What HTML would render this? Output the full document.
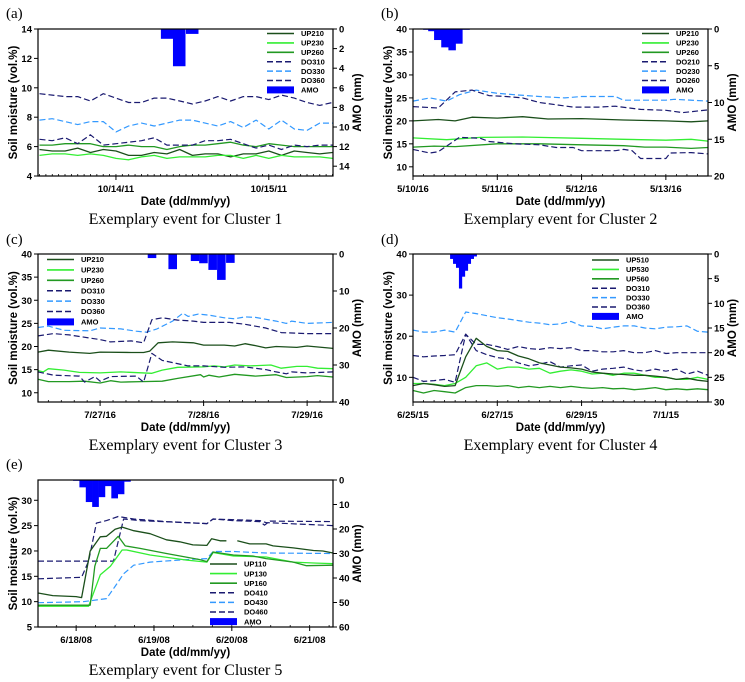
<!DOCTYPE html>
<html><head><meta charset="utf-8"><style>
html,body{margin:0;padding:0;background:#fff;}
svg{display:block;font-family:"Liberation Sans",Arial,sans-serif;}
.tk{font-size:9.5px;font-weight:bold;fill:#000;}
.lg{font-size:7.5px;font-weight:bold;fill:#000;}
.ttl{font-size:11.5px;font-weight:bold;fill:#000;}
.cap{font-family:"Liberation Serif",serif;font-size:16px;fill:#000;}
.pl{font-family:"Liberation Serif",serif;font-size:15px;fill:#000;}
</style></head><body>
<svg id="fig" width="745" height="682" viewBox="0 0 745 682" xmlns="http://www.w3.org/2000/svg"></svg>
<script>
// ---------- Panel A data (days relative to 10/14/11) ----------
const aT = [-0.5,-0.417,-0.333,-0.25,-0.167,-0.083,0,0.083,0.167,0.25,0.333,0.417,0.5,0.583,0.667,0.75,0.833,0.917,1.0,1.083,1.167,1.25,1.333,1.417];
const aUP210 = [5.8,5.7,5.7,5.9,5.6,5.8,5.7,5.4,5.4,5.6,5.5,5.8,5.4,5.5,5.5,5.3,5.5,5.5,5.7,5.4,5.7,5.6,5.5,5.6];
const aUP230 = [5.4,5.5,5.5,5.4,5.5,5.4,5.2,5.1,5.3,5.4,5.2,5.3,5.3,5.3,5.4,5.4,5.2,5.4,5.2,5.4,5.3,5.3,5.3,5.2];
const aUP260 = [6.1,6.1,6.2,6.2,6.2,6.0,6.0,6.1,6.0,6.0,5.8,6.0,6.1,6.1,6.2,6.3,6.1,6.0,6.2,6.1,6.0,6.0,6.0,6.0];
const aDO310 = [9.6,9.5,9.4,9.4,9.1,9.6,9.3,9.0,9.0,9.3,9.3,9.1,8.9,9.1,9.4,9.1,9.4,9.4,9.2,9.5,9.3,9.0,8.8,9.0];
const aDO330 = [7.8,7.9,7.7,7.5,7.7,7.7,7.0,7.4,7.6,7.4,7.6,7.8,7.8,7.6,7.4,7.7,7.3,7.8,7.2,7.8,7.2,7.1,7.6,7.6];
const aDO360 = [6.5,6.4,6.6,6.2,6.8,6.1,6.2,6.3,6.4,6.6,6.1,6.1,6.1,6.4,6.4,6.5,6.2,5.9,6.1,5.8,6.1,6.0,6.1,6.1];
const aAmoT = [0.294,0.373,0.458];
const aAmo = [1.0,3.8,0.5];
// ---------- Panel B data (days relative to 5/10/16) ----------
const bDO230T = [0,0.2,0.4,0.55,0.75,1.0,1.2,1.5,1.8,2.0,2.4,2.5,3.0,3.1,3.5];
const bDO230 = [24.3,25.0,24.3,25.7,26.7,26.0,25.7,25.3,25.0,25.3,25.3,24.5,24.5,24.7,24.3];
const bDO210T = [0,0.3,0.5,0.7,0.9,1.1,1.3,1.5,1.9,2.2,2.4,2.7,3.0,3.2,3.5];
const bDO210 = [23.1,22.8,26.3,26.7,25.5,25.3,25.0,24.0,23.0,23.0,23.2,22.5,22.3,21.8,22.4];
const bUP210T = [0,0.3,0.5,0.7,1.0,1.3,1.6,2.0,2.5,3.0,3.3,3.5];
const bUP210 = [20.0,20.3,20.0,20.8,20.6,20.9,20.4,20.5,20.2,20.0,19.8,20.0];
const bUP230T = [0,0.4,0.8,1.3,2.0,2.5,3.0,3.3,3.5];
const bUP230 = [16.3,15.9,16.4,16.5,16.2,16.0,15.8,16.0,15.6];
const bUP260T = [0,0.25,0.5,1.0,1.5,2.0,2.5,2.75,3.0,3.3,3.5];
const bUP260 = [14.3,14.5,14.4,15.0,15.0,14.8,14.6,14.3,14.3,14.0,14.2];
const bDO260T = [0,0.2,0.3,0.55,0.8,0.9,1.2,1.5,1.7,1.9,2.0,2.4,2.5,2.6,2.7,3.0,3.05,3.3,3.5];
const bDO260 = [13.8,13.0,13.3,16.4,16.2,15.5,15.0,14.8,14.2,14.2,13.5,13.5,13.8,13.5,11.8,11.8,13.0,13.1,12.8];
const bAmoT = [0.12,0.18,0.25,0.335,0.42,0.50,0.585];
const bAmo = [0.05,0.3,1.5,2.5,2.9,2.0,0];
// ---------- Panel C data (days relative to 7/27/16) ----------
const cDO330T = [-0.6,-0.5,-0.35,-0.1,0,0.2,0.35,0.45,0.55,0.7,0.8,0.85,0.95,1.05,1.2,1.3,1.4,1.5,1.7,1.8,1.85,2.0,2.25];
const cDO330 = [24.1,24.4,23.5,23.4,24.0,23.8,23.3,23.1,23.8,25.5,27.2,26.5,27.0,26.8,26.2,26.0,26.4,26.3,25.5,25.0,25.5,25.0,25.2];
const cDO310T = [-0.6,-0.45,-0.3,0,0.1,0.3,0.42,0.5,0.6,0.75,0.9,1.0,1.25,1.4,1.6,1.75,2.0,2.25];
const cDO310 = [22.3,22.8,22.5,21.5,21.0,21.2,20.8,25.8,26.2,25.7,25.5,25.2,25.2,24.8,24.0,23.0,22.8,22.8];
const cUP210T = [-0.6,-0.5,-0.3,-0.1,0,0.3,0.42,0.48,0.56,0.7,0.9,1.0,1.2,1.3,1.4,1.5,1.6,1.7,1.9,2.0,2.25];
const cUP210 = [18.8,19.2,18.8,18.5,18.8,18.7,18.7,19.0,20.8,21.0,20.8,20.3,20.3,20.1,20.6,20.2,19.7,20.0,19.8,20.1,19.6];
const cUP230T = [-0.6,-0.55,-0.5,-0.35,-0.2,0,0.2,0.5,0.6,0.75,1.0,1.1,1.2,1.3,1.45,1.65,1.75,1.9,2.0,2.1,2.25];
const cUP230 = [14.8,14.5,15.2,14.9,14.4,14.3,14.5,14.2,14.9,15.5,15.6,15.8,15.6,16.0,15.8,16.0,15.3,15.7,15.7,15.3,15.2];
const cUP260T = [-0.6,-0.5,-0.3,-0.15,0,0.1,0.2,0.4,0.6,0.75,0.97,1.0,1.05,1.15,1.3,1.5,1.7,1.8,2.0,2.1,2.25];
const cUP260 = [12.9,12.4,12.4,12.5,12.1,12.6,12.3,12.4,12.5,13.1,13.9,13.4,13.8,13.4,14.0,13.6,13.9,13.3,13.5,13.7,13.4];
const cDO360T = [-0.6,-0.45,-0.2,-0.15,-0.05,0,0.1,0.35,0.42,0.5,0.6,0.85,1.0,1.2,1.4,1.6,1.7,1.8,1.85,2.0,2.25];
const cDO360 = [14.5,13.8,13.6,12.3,13.5,12.5,13.5,13.6,12.3,18.5,17.0,15.8,15.8,15.5,15.6,15.0,14.5,14.1,14.5,14.3,14.5];
const cAmoT = [0.46,0.66,0.876,0.957,1.046,1.13,1.217];
const cAmo = [1.1,4.1,1.9,2.5,4.3,7.0,2.4];
// ---------- Panel D data (days relative to 6/25/15) ----------
const dT = [0,0.25,0.5,0.75,1,1.25,1.5,1.75,2,2.25,2.5,2.75,3,3.25,3.5,3.75,4,4.25,4.5,4.75,5,5.25,5.5,5.75,6,6.25,6.5,6.75,7];
const dDO330 = [21.5,21.0,21.0,21.5,21.0,25.9,25.5,25.0,24.5,24.2,23.8,23.4,23.2,22.8,23.0,23.6,22.5,22.4,21.8,22.2,22.5,22.5,22.0,21.8,22.2,22.3,22.5,21.2,21.0];
const dDO310 = [15.3,15.0,15.2,15.3,15.5,20.5,18.0,18.0,17.5,16.8,17.5,17.0,16.8,17.2,17.0,17.2,16.5,16.5,16.2,16.2,16.5,16.0,16.0,16.5,15.8,16.0,16.0,16.0,16.0];
const dUP510 = [8.0,8.5,8.2,7.8,8.0,15.0,19.5,17.5,16.5,16.3,15.2,14.5,13.5,13.0,12.5,12.3,12.0,11.3,11.0,10.8,10.7,10.5,10.5,10.3,10.0,9.5,9.8,9.3,9.0];
const dDO360 = [10.0,9.0,9.2,9.5,8.8,20.5,16.5,15.5,14.8,14.5,13.5,12.8,13.2,13.8,12.5,12.8,13.0,11.5,12.0,12.2,12.5,11.8,11.5,12.0,11.5,12.0,10.8,11.5,10.5];
const dUP530 = [8.5,8.5,8.3,8.0,8.5,10.0,12.8,13.5,12.0,12.5,12.5,12.0,12.2,11.0,11.5,11.8,11.5,10.8,11.0,10.5,11.0,11.0,10.5,10.0,10.0,9.5,9.5,10.0,9.5];
const dUP560 = [6.8,6.2,6.8,6.5,6.2,7.5,8.0,8.0,7.8,8.0,7.5,7.8,7.5,7.8,7.5,7.8,7.5,7.3,7.5,7.2,7.3,7.0,7.2,7.5,7.0,7.2,7.0,7.2,7.0];
const dAmoT = [0.88,0.95,1.02,1.09,1.16,1.23,1.30,1.37,1.44];
const dAmo = [1.0,2.0,2.8,7.0,4.6,3.4,2.0,1.0,0.5];
// ---------- Panel E data (days relative to 6/18/08) ----------
const eDO410T = [-0.49,0.07,0.16,0.26,0.39,0.54,0.74,1.16,1.68,1.76,2.02,2.36,2.42,2.49,3.3];
const eDO410 = [14.5,14.8,18.0,25.5,26.0,26.8,26.3,25.8,25.4,26.3,26.0,25.8,25.1,25.9,25.8];
const eDO460T = [-0.49,0.48,0.61,0.82,1.68,1.76,2.36,2.44,3.3];
const eDO460 = [18.0,18.0,26.3,26.0,25.4,26.3,26.0,25.6,25.0];
const eDO430T = [-0.49,0.09,0.39,0.5,0.61,0.74,0.95,1.42,1.68,1.76,2.02,2.44,3.3];
const eDO430 = [9.8,10.0,10.6,13.0,15.5,17.2,17.8,18.3,18.5,19.9,19.9,19.6,19.5];
const eUP110T = [-0.49,-0.3,0.0,0.07,0.18,0.31,0.39,0.5,0.59,0.74,0.95,1.16,1.33,1.5,1.68,1.74,1.85,1.93,1.98,2.07,2.23,2.44,2.53,2.79,3.05,3.17,3.3];
const eUP110 = [11.7,11.2,11.0,10.8,20.0,22.8,22.9,24.3,24.7,24.0,23.4,22.2,21.8,21.2,21.1,22.4,22.0,22.0,null,22.0,21.4,21.4,21.0,20.6,20.1,20.0,19.6];
const eUP160T = [-0.49,0.18,0.24,0.31,0.39,0.54,0.63,0.82,1.16,1.59,1.68,1.76,2.02,2.27,2.44,2.79,2.96,3.3];
const eUP160 = [9.3,9.3,17.0,20.5,20.5,22.9,21.0,20.5,19.5,18.3,17.9,19.8,19.2,19.0,18.5,17.8,17.1,17.2];
const eUP130T = [-0.49,0.16,0.31,0.44,0.59,0.65,0.95,1.42,1.68,1.76,2.02,2.44,2.79,3.09,3.3];
const eUP130 = [9.1,9.1,15.3,17.0,20.2,20.2,19.2,18.2,17.8,19.7,19.0,18.8,17.8,17.6,17.5];
const eAmoT = [-0.04,0.042,0.124,0.206,0.288,0.37,0.452,0.534,0.616];
const eAmo = [0.3,3.0,9.0,11.0,7.0,2.5,7.5,5.8,0.7];

const NS = "http://www.w3.org/2000/svg";
const fig = document.getElementById('fig');
function mk(tag, attrs, parent){ const e=document.createElementNS(NS,tag); for(const k in attrs) e.setAttribute(k,attrs[k]); (parent||fig).appendChild(e); return e; }

const STY = {
  up1:{c:'#1b4f1b',w:1.3,d:''},
  up3:{c:'#33ee33',w:1.3,d:''},
  up6:{c:'#229922',w:1.3,d:''},
  do1:{c:'#1a1a70',w:1.2,d:'6,3'},
  do3:{c:'#3399ff',w:1.2,d:'6,3'},
  do6:{c:'#1a1a70',w:1.2,d:'6,3'}
};

function panel(cfg){
  const g = mk('g',{});
  
  
  const {L,R,T,B} = cfg;
  const xs = v => L + (v-cfg.x[0])/(cfg.x[1]-cfg.x[0])*(R-L);
  const ys = v => B - (v-cfg.y[0])/(cfg.y[1]-cfg.y[0])*(B-T);
  const rs = v => T + (v-cfg.r[0])/(cfg.r[1]-cfg.r[0])*(B-T);
  const bars = mk('g',{},g);
  
  
  cfg.amoT.forEach((t,i)=>{
    const x0 = xs(t), x1 = xs(t+cfg.bw);
    const r = mk('rect',{x:x0,y:T,width:Math.max(0.5,x1-x0+0.3),height:Math.max(0.8,rs(cfg.amo[i])-T),fill:'#0000ff'},bars);
    
    
  });
  cfg.series.forEach(s=>{
    let d='', pen=false;
    s.t.forEach((t,i)=>{
      const v=s.v[i];
      if(v===null){pen=false;return;}
      d += (pen?'L':'M') + xs(t).toFixed(1)+','+ys(v).toFixed(1);
      pen=true;
    });
    const st=STY[s.s];
    const p = mk('path',{d:d,fill:'none',stroke:st.c,'stroke-width':st.w,'stroke-dasharray':st.d,'stroke-linejoin':'round'},g);
    
    
  });
  const fr = mk('rect',{x:L,y:T,width:R-L,height:B-T,fill:'none',stroke:'#000','stroke-width':1.2},g);
  
  
  cfg.yt.forEach(v=>{
    mk('line',{x1:L-4,x2:L,y1:ys(v),y2:ys(v),stroke:'#000','stroke-width':1},g);
    const t=mk('text',{x:L-6,y:ys(v)+3.5,'text-anchor':'end',class:'tk'},g); t.textContent=v;
     
  });
  cfg.rt.forEach(v=>{
    mk('line',{x1:R,x2:R+4,y1:rs(v),y2:rs(v),stroke:'#000','stroke-width':1},g);
    const t=mk('text',{x:R+6,y:rs(v)+3.5,'text-anchor':'start',class:'tk'},g); t.textContent=v;
     
  });
  for(let v=Math.ceil(cfg.x[0]/cfg.minor)*cfg.minor; v<=cfg.x[1]; v+=cfg.minor){
    mk('line',{x1:xs(v),x2:xs(v),y1:B,y2:B-2,stroke:'#000','stroke-width':0.8},g);
  }
  cfg.xt.forEach((v,i)=>{
    mk('line',{x1:xs(v),x2:xs(v),y1:B,y2:B+4,stroke:'#000','stroke-width':1},g);
    const t=mk('text',{x:xs(v),y:B+16,'text-anchor':'middle',class:'tk'},g); t.textContent=cfg.xl[i];
     
  });
  let t=mk('text',{x:(L+R)/2,y:B+29,'text-anchor':'middle',class:'ttl'},g); t.textContent='Date (dd/mm/yy)';
   
  t=mk('text',{x:0,y:0,'text-anchor':'middle',class:'ttl',fill:'#2b2000',transform:`translate(${L-21},${(T+B)/2}) rotate(-90)`},g); t.textContent='Soil moisture (vol.%)';
   
  t=mk('text',{x:0,y:0,'text-anchor':'middle',class:'ttl',transform:`translate(${R+28},${(T+B)/2}) rotate(-90)`},g); t.textContent='AMO (mm)';
   
  t=mk('text',{x:(L+R)/2+(cfg.capdx||0),y:B+48,'text-anchor':'middle',class:'cap'},g); t.textContent=cfg.cap;
   
  t=mk('text',{x:cfg.plx,y:cfg.ply,class:'pl'},g); t.textContent=cfg.pl;
   
  const lg = mk('g',{},g);
  
  
  const rows = cfg.series.slice().sort((a,b)=>a.o-b.o);
  rows.forEach((s,i)=>{
    const y=cfg.lgy+i*cfg.lgdy; const st=STY[s.s];
    mk('line',{x1:cfg.lgx,x2:cfg.lgx+27,y1:y,y2:y,stroke:st.c,'stroke-width':st.w+0.3,'stroke-dasharray':st.d},lg);
    const tx=mk('text',{x:cfg.lgx+34,y:y+2.7,class:'lg'},lg); tx.textContent=s.n;
     
  });
  const y=cfg.lgy+6*cfg.lgdy;
  mk('rect',{x:cfg.lgx,y:y-3.5,width:27,height:7,fill:'#0000ff'},lg);
  const tx=mk('text',{x:cfg.lgx+34,y:y+2.7,class:'lg'},lg); tx.textContent='AMO';
   
}

panel({name:'panel-a',L:38,R:333,T:29,B:176,x:[-0.51,1.42],y:[4,14],r:[0,15],
  yt:[4,6,8,10,12,14],rt:[0,2,4,6,8,10,12,14],xt:[0,1],xl:['10/14/11','10/15/11'],minor:1/24,
  amoT:aAmoT,amo:aAmo,bw:0.08,cap:'Exemplary event for Cluster 1',pl:'(a)',plx:6,ply:18,
  lgx:267,lgy:33.5,lgdy:9.4,
  series:[
   {n:'UP210',s:'up1',t:aT,v:aUP210,o:0},{n:'UP230',s:'up3',t:aT,v:aUP230,o:1},{n:'UP260',s:'up6',t:aT,v:aUP260,o:2},
   {n:'DO310',s:'do1',t:aT,v:aDO310,o:3},{n:'DO330',s:'do3',t:aT,v:aDO330,o:4},{n:'DO360',s:'do6',t:aT,v:aDO360,o:5}]});
panel({name:'panel-b',L:413,R:708,T:29,B:176,x:[0,3.5],y:[8,40],r:[0,20],
  yt:[10,15,20,25,30,35,40],rt:[0,5,10,15,20],xt:[0,1,2,3],xl:['5/10/16','5/11/16','5/12/16','5/13/16'],minor:1/8,
  amoT:bAmoT,amo:bAmo,bw:0.085,cap:'Exemplary event for Cluster 2',pl:'(b)',plx:381,ply:18,
  lgx:642,lgy:33.5,lgdy:9.4,
  series:[
   {n:'DO230',s:'do3',t:bDO230T,v:bDO230,o:4},{n:'DO210',s:'do1',t:bDO210T,v:bDO210,o:3},
   {n:'UP210',s:'up1',t:bUP210T,v:bUP210,o:0},{n:'UP230',s:'up3',t:bUP230T,v:bUP230,o:1},
   {n:'UP260',s:'up6',t:bUP260T,v:bUP260,o:2},{n:'DO260',s:'do6',t:bDO260T,v:bDO260,o:5}]});
panel({name:'panel-c',L:38,R:333,T:254,B:402,x:[-0.6,2.25],y:[8,40],r:[0,40],
  yt:[10,15,20,25,30,35,40],rt:[0,10,20,30,40],xt:[0,1,2],xl:['7/27/16','7/28/16','7/29/16'],minor:1/8,
  amoT:cAmoT,amo:cAmo,bw:0.08,cap:'Exemplary event for Cluster 3',pl:'(c)',plx:6,ply:244,
  lgx:47,lgy:259.5,lgdy:10.4,
  series:[
   {n:'DO330',s:'do3',t:cDO330T,v:cDO330,o:4},{n:'DO310',s:'do1',t:cDO310T,v:cDO310,o:3},
   {n:'UP210',s:'up1',t:cUP210T,v:cUP210,o:0},{n:'UP230',s:'up3',t:cUP230T,v:cUP230,o:1},
   {n:'UP260',s:'up6',t:cUP260T,v:cUP260,o:2},{n:'DO360',s:'do6',t:cDO360T,v:cDO360,o:5}]});
panel({name:'panel-d',L:413,R:708,T:254,B:402,x:[0,7],y:[4,40],r:[0,30],
  yt:[10,20,30,40],rt:[0,5,10,15,20,25,30],xt:[0,2,4,6],xl:['6/25/15','6/27/15','6/29/15','7/1/15'],minor:1/4,
  amoT:dAmoT,amo:dAmo,bw:0.07,cap:'Exemplary event for Cluster 4',pl:'(d)',plx:381,ply:244,
  lgx:592,lgy:260,lgdy:9.4,
  series:[
   {n:'DO330',s:'do3',t:dT,v:dDO330,o:4},{n:'DO310',s:'do1',t:dT,v:dDO310,o:3},
   {n:'DO360',s:'do6',t:dT,v:dDO360,o:5},{n:'UP530',s:'up3',t:dT,v:dUP530,o:1},
   {n:'UP560',s:'up6',t:dT,v:dUP560,o:2},{n:'UP510',s:'up1',t:dT,v:dUP510,o:0}]});
panel({name:'panel-e',L:38,R:333,T:480,B:627,x:[-0.49,3.3],y:[5,34],r:[0,60],
  yt:[5,10,15,20,25,30],rt:[0,10,20,30,40,50,60],xt:[0,1,2,3],xl:['6/18/08','6/19/08','6/20/08','6/21/08'],minor:1/4,
  amoT:eAmoT,amo:eAmo,bw:0.082,cap:'Exemplary event for Cluster 5',pl:'(e)',plx:6,ply:469,
  lgx:210,lgy:564,lgdy:9.6,
  series:[
   {n:'DO410',s:'do1',t:eDO410T,v:eDO410,o:3},{n:'DO460',s:'do6',t:eDO460T,v:eDO460,o:5},
   {n:'DO430',s:'do3',t:eDO430T,v:eDO430,o:4},{n:'UP130',s:'up3',t:eUP130T,v:eUP130,o:1},
   {n:'UP160',s:'up6',t:eUP160T,v:eUP160,o:2},{n:'UP110',s:'up1',t:eUP110T,v:eUP110,o:0}]});
</script>
</body></html>
